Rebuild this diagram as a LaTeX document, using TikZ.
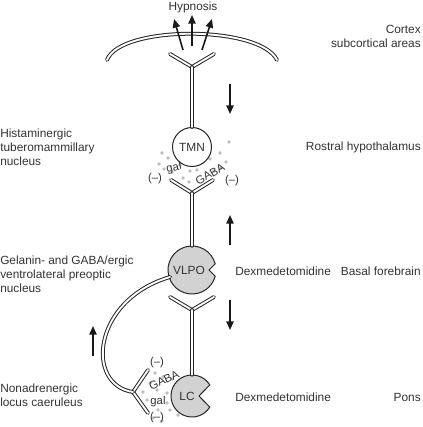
\documentclass[tikz,border=0pt]{standalone}
\usepackage{fontspec}
\setmainfont{Liberation Sans}
\usetikzlibrary{arrows.meta}
\begin{document}
\begin{tikzpicture}[x=0.75pt,y=-0.75pt,
  txt/.style={text=black!80, font=\fontsize{8.9}{10.5}\selectfont, inner sep=0pt},
  small/.style={text=black!80, font=\fontsize{8.5}{10}\selectfont, inner sep=0pt},
  axon/.style={draw=black!85, double=white, double distance=1.4pt, line width=0.75pt, line cap=round},
  arr/.style={draw=black!90, line width=1.2pt, -{Triangle[length=6.5pt,width=5.5pt]}},
  dot/.style={fill=gray!50},
  cell/.style={draw=black!85, line width=0.75pt, fill=gray!35}
]
\useasboundingbox (0,0) rectangle (422,427);

% labels
\node[txt] (hyp) at (193,7) {Hypnosis};
\node[txt, anchor=east, align=right] (cortex) at (421,36) {Cortex\\subcortical areas};
\node[txt, anchor=east] (rostral) at (421,147) {Rostral hypothalamus};
\node[txt, anchor=east] (basal) at (421,271) {Basal forebrain};
\node[txt, anchor=east] (pons) at (421,397) {Pons};
\node[txt, anchor=west, align=left] (hist) at (0,147) {Histaminergic\\tuberomammillary\\nucleus};
\node[txt, anchor=west, align=left] (gel) at (0,274) {Gelanin- and GABA/ergic\\ventrolateral preoptic\\nucleus};
\node[txt, anchor=west, align=left] (nona) at (0,395) {Nonadrenergic\\locus caeruleus};
\node[txt, anchor=west] (dex1) at (235,271) {Dexmedetomidine};
\node[txt, anchor=west] (dex2) at (235,397) {Dexmedetomidine};

% cortex arc
\coordinate (arcL) at (107,60);
\coordinate (arcR) at (277,60);
\draw[axon] (arcL) .. controls (120,25) and (260,25) .. (arcR);

% dots near TMN synapse
\foreach \p in {(162,153),(168,158),(159,164),(164,169),(178,158),(190,171),(203,162),(210,159),(220,153),(229,142),(226,162),(221,168),(183,178),(197,170),(180,165),(189,182),(172,172),(214,171)}
  \fill[dot] \p circle[radius=1.4pt];
% dots near LC synapse
\foreach \p in {(155,373),(163,377),(172,379),(143,392),(157,390),(167,393),(147,400),(167,403),(158,410),(170,410),(178,415),(153,418),(162,421),(174,392),(150,383)}
  \fill[dot] \p circle[radius=1.4pt];

% cells
\node[circle, draw=black!85, line width=0.75pt, fill=white, minimum size=29.25pt, inner sep=0pt, txt] (tmn) at (192,147) {TMN};
\node[circle, minimum size=36pt, inner sep=0pt] (vlpo) at (192,270) {};
\draw[cell] (vlpo.center) ++(15:18pt) arc[start angle=15, end angle=345, radius=18pt] -- (209,270) -- cycle;
\node[txt] (vlpotxt) at (189,270) {VLPO};
\node[circle, minimum size=31.5pt, inner sep=0pt] (lc) at (192,396) {};
\draw[cell] (lc.center) ++(32:15.75pt) arc[start angle=32, end angle=328, radius=15.75pt] -- (199,396) -- cycle;
\node[txt] (lctxt) at (187,396) {LC};

% Y receptors and axons
\coordinate (y1) at (192,67);
\coordinate (y1l) at (170,54);
\coordinate (y1r) at (214,54);
\draw[axon] (y1l) -- (y1) -- (y1r);
\draw[axon] (y1) -- (tmn.north);

\coordinate (y2) at (192,193);
\coordinate (y2l) at (171,180);
\coordinate (y2r) at (213,180);
\draw[axon] (y2l) -- (y2) -- (y2r);
\draw[axon] (y2) -- (vlpo.north);

\coordinate (y3) at (192,310);
\coordinate (y3l) at (170,297);
\coordinate (y3r) at (214,297);
\draw[axon] (y3l) -- (y3) -- (y3r);
\draw[axon] (y3) -- (lc.north);

\coordinate (y4) at (133,392);
\coordinate (y4u) at (148,370);
\coordinate (y4d) at (148,413);
\draw[axon] (y4u) -- (y4) -- (y4d);
\coordinate (vout) at (170,277);
\draw[axon] (vout) .. controls (92,300) and (85,385) .. (y4);

% synapse labels
\node[small, rotate=12] (gal1) at (174,168) {gal};
\node[small, rotate=30] (gaba1) at (210,174) {GABA};
\node[small] (m1) at (155,179) {(–)};
\node[small] (m2) at (232,181) {(–)};
\node[small, rotate=25] (gaba2) at (164,380) {GABA};
\node[small] (gal2) at (158,402) {gal};
\node[small] (m3) at (157,363) {(–)};
\node[small] (m4) at (157,418) {(–)};

% arrows
\coordinate (a1s) at (183,50); \coordinate (a1e) at (174,19);
\coordinate (a2s) at (192,46); \coordinate (a2e) at (192,15);
\coordinate (a3s) at (202,50); \coordinate (a3e) at (212,19);
\draw[arr] (a1s) -- (a1e);
\draw[arr] (a2s) -- (a2e);
\draw[arr] (a3s) -- (a3e);
\coordinate (d1s) at (230,84); \coordinate (d1e) at (230,114);
\coordinate (u1s) at (230,245); \coordinate (u1e) at (230,215);
\coordinate (d2s) at (230,300); \coordinate (d2e) at (230,330);
\coordinate (u2s) at (93,356); \coordinate (u2e) at (93,326);
\draw[arr] (d1s) -- (d1e);
\draw[arr] (u1s) -- (u1e);
\draw[arr] (d2s) -- (d2e);
\draw[arr] (u2s) -- (u2e);
\end{tikzpicture}
\end{document}
